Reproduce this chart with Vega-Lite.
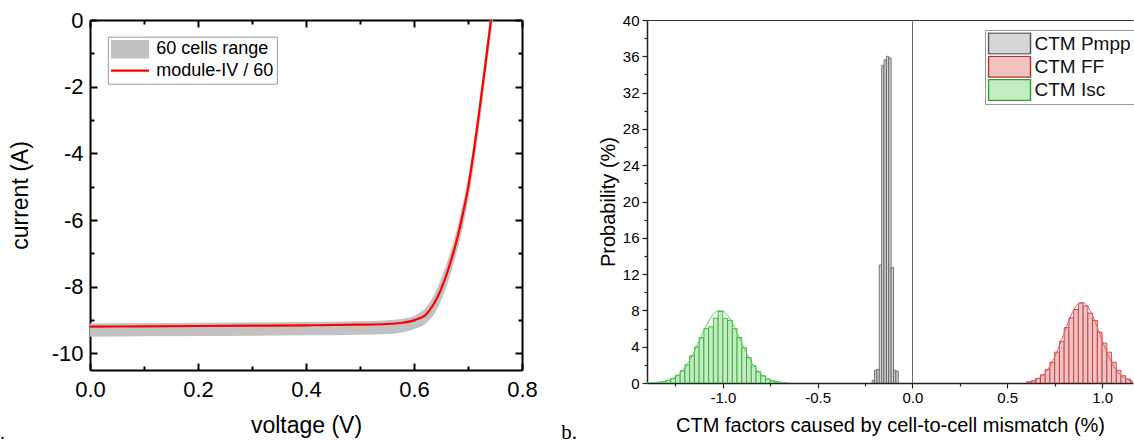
{
  "$schema": "https://vega.github.io/schema/vega-lite/v6.json",
  "background": "white",
  "padding": {"left": 0, "top": 9, "right": 0, "bottom": 0},
  "autosize": {"type": "pad"},
  "config": {
    "view": {"stroke": null},
    "font": "Liberation Sans",
    "axis": {"grid": false, "labelFont": "Liberation Sans", "titleFont": "Liberation Sans", "titleFontWeight": "normal", "labelColor": "#000", "titleColor": "#000", "labelFlush": false, "labelOverlap": false}
  },
  "datasets": {
    "band": [
      {"v": 0, "lo": -9.5, "hi": -9.1}, {"v": 0.1, "lo": -9.49, "hi": -9.09}, {"v": 0.2, "lo": -9.48, "hi": -9.08},
      {"v": 0.3, "lo": -9.47, "hi": -9.07}, {"v": 0.4, "lo": -9.46, "hi": -9.06}, {"v": 0.5, "lo": -9.44, "hi": -9.04},
      {"v": 0.55, "lo": -9.42, "hi": -9.01}, {"v": 0.575, "lo": -9.38, "hi": -8.97}, {"v": 0.6, "lo": -9.28, "hi": -8.88},
      {"v": 0.61, "lo": -9.22, "hi": -8.78}, {"v": 0.62, "lo": -9.13, "hi": -8.66}, {"v": 0.63, "lo": -8.98, "hi": -8.45},
      {"v": 0.64, "lo": -8.75, "hi": -8.15}, {"v": 0.65, "lo": -8.42, "hi": -7.78}, {"v": 0.66, "lo": -8.0, "hi": -7.33},
      {"v": 0.67, "lo": -7.5, "hi": -6.82}, {"v": 0.68, "lo": -6.92, "hi": -6.24}, {"v": 0.69, "lo": -6.25, "hi": -5.55},
      {"v": 0.7, "lo": -5.45, "hi": -4.75}, {"v": 0.71, "lo": -4.45, "hi": -3.75}, {"v": 0.72, "lo": -3.3, "hi": -2.6},
      {"v": 0.73, "lo": -2.05, "hi": -1.35}, {"v": 0.7426, "lo": -0.45, "hi": 0.25}, {"v": 0.747, "lo": 0.1, "hi": 0.6}
    ],
    "red": [
      {"v": 0, "I": -9.2}, {"v": 0.1, "I": -9.19}, {"v": 0.2, "I": -9.18}, {"v": 0.3, "I": -9.17}, {"v": 0.4, "I": -9.16},
      {"v": 0.5, "I": -9.14}, {"v": 0.55, "I": -9.12}, {"v": 0.575, "I": -9.09}, {"v": 0.6, "I": -9.01}, {"v": 0.61, "I": -8.95},
      {"v": 0.62, "I": -8.87}, {"v": 0.63, "I": -8.68}, {"v": 0.64, "I": -8.42}, {"v": 0.65, "I": -8.08}, {"v": 0.66, "I": -7.65},
      {"v": 0.67, "I": -7.14}, {"v": 0.68, "I": -6.56}, {"v": 0.69, "I": -5.85}, {"v": 0.7, "I": -5.05}, {"v": 0.71, "I": -4.02},
      {"v": 0.72, "I": -2.85}, {"v": 0.73, "I": -1.6}, {"v": 0.7426, "I": 0}, {"v": 0.746, "I": 0.45}
    ],
    "hist": [
      {"s": "CTM Isc", "x0": -1.375, "x1": -1.35, "p": 0.03}, {"s": "CTM Isc", "x0": -1.35, "x1": -1.325, "p": 0.08},
      {"s": "CTM Isc", "x0": -1.325, "x1": -1.3, "p": 0.15}, {"s": "CTM Isc", "x0": -1.3, "x1": -1.275, "p": 0.3},
      {"s": "CTM Isc", "x0": -1.275, "x1": -1.25, "p": 0.5}, {"s": "CTM Isc", "x0": -1.25, "x1": -1.225, "p": 0.85},
      {"s": "CTM Isc", "x0": -1.225, "x1": -1.2, "p": 1.35}, {"s": "CTM Isc", "x0": -1.2, "x1": -1.175, "p": 2.0},
      {"s": "CTM Isc", "x0": -1.175, "x1": -1.15, "p": 3.0}, {"s": "CTM Isc", "x0": -1.15, "x1": -1.125, "p": 4.0},
      {"s": "CTM Isc", "x0": -1.125, "x1": -1.1, "p": 5.0}, {"s": "CTM Isc", "x0": -1.1, "x1": -1.075, "p": 6.0},
      {"s": "CTM Isc", "x0": -1.075, "x1": -1.05, "p": 6.2}, {"s": "CTM Isc", "x0": -1.05, "x1": -1.025, "p": 7.15},
      {"s": "CTM Isc", "x0": -1.025, "x1": -1.0, "p": 7.9}, {"s": "CTM Isc", "x0": -1.0, "x1": -0.975, "p": 7.1},
      {"s": "CTM Isc", "x0": -0.975, "x1": -0.95, "p": 6.9}, {"s": "CTM Isc", "x0": -0.95, "x1": -0.925, "p": 6.0},
      {"s": "CTM Isc", "x0": -0.925, "x1": -0.9, "p": 5.0}, {"s": "CTM Isc", "x0": -0.9, "x1": -0.875, "p": 3.9},
      {"s": "CTM Isc", "x0": -0.875, "x1": -0.85, "p": 2.8}, {"s": "CTM Isc", "x0": -0.85, "x1": -0.825, "p": 1.9},
      {"s": "CTM Isc", "x0": -0.825, "x1": -0.8, "p": 1.25}, {"s": "CTM Isc", "x0": -0.8, "x1": -0.775, "p": 0.8},
      {"s": "CTM Isc", "x0": -0.775, "x1": -0.75, "p": 0.45}, {"s": "CTM Isc", "x0": -0.75, "x1": -0.725, "p": 0.25},
      {"s": "CTM Isc", "x0": -0.725, "x1": -0.7, "p": 0.13}, {"s": "CTM Isc", "x0": -0.7, "x1": -0.675, "p": 0.06},
      {"s": "CTM Pmpp", "x0": -0.2125, "x1": -0.2, "p": 0.3}, {"s": "CTM Pmpp", "x0": -0.2, "x1": -0.1875, "p": 1.4},
      {"s": "CTM Pmpp", "x0": -0.1875, "x1": -0.175, "p": 1.5}, {"s": "CTM Pmpp", "x0": -0.175, "x1": -0.1625, "p": 13.0},
      {"s": "CTM Pmpp", "x0": -0.1625, "x1": -0.15, "p": 35.0}, {"s": "CTM Pmpp", "x0": -0.15, "x1": -0.1375, "p": 35.6},
      {"s": "CTM Pmpp", "x0": -0.1375, "x1": -0.125, "p": 36.0}, {"s": "CTM Pmpp", "x0": -0.125, "x1": -0.1125, "p": 35.8},
      {"s": "CTM Pmpp", "x0": -0.1125, "x1": -0.1, "p": 12.7}, {"s": "CTM Pmpp", "x0": -0.1, "x1": -0.0875, "p": 1.4},
      {"s": "CTM Pmpp", "x0": -0.0875, "x1": -0.075, "p": 1.3},
      {"s": "CTM FF", "x0": 0.6, "x1": 0.625, "p": 0.12}, {"s": "CTM FF", "x0": 0.625, "x1": 0.65, "p": 0.25},
      {"s": "CTM FF", "x0": 0.65, "x1": 0.675, "p": 0.5}, {"s": "CTM FF", "x0": 0.675, "x1": 0.7, "p": 0.9},
      {"s": "CTM FF", "x0": 0.7, "x1": 0.725, "p": 1.5}, {"s": "CTM FF", "x0": 0.725, "x1": 0.75, "p": 2.3},
      {"s": "CTM FF", "x0": 0.75, "x1": 0.775, "p": 3.4}, {"s": "CTM FF", "x0": 0.775, "x1": 0.8, "p": 4.6},
      {"s": "CTM FF", "x0": 0.8, "x1": 0.825, "p": 6.1}, {"s": "CTM FF", "x0": 0.825, "x1": 0.85, "p": 7.2},
      {"s": "CTM FF", "x0": 0.85, "x1": 0.875, "p": 8.1}, {"s": "CTM FF", "x0": 0.875, "x1": 0.9, "p": 8.8},
      {"s": "CTM FF", "x0": 0.9, "x1": 0.925, "p": 8.5}, {"s": "CTM FF", "x0": 0.925, "x1": 0.95, "p": 7.7},
      {"s": "CTM FF", "x0": 0.95, "x1": 0.975, "p": 6.9}, {"s": "CTM FF", "x0": 0.975, "x1": 1.0, "p": 5.6},
      {"s": "CTM FF", "x0": 1.0, "x1": 1.025, "p": 4.4}, {"s": "CTM FF", "x0": 1.025, "x1": 1.05, "p": 3.4},
      {"s": "CTM FF", "x0": 1.05, "x1": 1.075, "p": 2.3}, {"s": "CTM FF", "x0": 1.075, "x1": 1.1, "p": 1.4},
      {"s": "CTM FF", "x0": 1.1, "x1": 1.125, "p": 0.8}, {"s": "CTM FF", "x0": 1.125, "x1": 1.15, "p": 0.45},
      {"s": "CTM FF", "x0": 1.15, "x1": 1.175, "p": 0.2}
    ],
    "fit": [
      {"s": "CTM Isc", "x": -1.4, "p": 0.01}, {"s": "CTM Isc", "x": -1.375, "p": 0.02}, {"s": "CTM Isc", "x": -1.35, "p": 0.05},
      {"s": "CTM Isc", "x": -1.325, "p": 0.1}, {"s": "CTM Isc", "x": -1.3, "p": 0.2}, {"s": "CTM Isc", "x": -1.275, "p": 0.37},
      {"s": "CTM Isc", "x": -1.25, "p": 0.65}, {"s": "CTM Isc", "x": -1.225, "p": 1.08}, {"s": "CTM Isc", "x": -1.2, "p": 1.7},
      {"s": "CTM Isc", "x": -1.175, "p": 2.5}, {"s": "CTM Isc", "x": -1.15, "p": 3.5}, {"s": "CTM Isc", "x": -1.125, "p": 4.62},
      {"s": "CTM Isc", "x": -1.1, "p": 5.77}, {"s": "CTM Isc", "x": -1.075, "p": 6.79}, {"s": "CTM Isc", "x": -1.05, "p": 7.57},
      {"s": "CTM Isc", "x": -1.025, "p": 7.96}, {"s": "CTM Isc", "x": -1.0, "p": 7.92}, {"s": "CTM Isc", "x": -0.975, "p": 7.44},
      {"s": "CTM Isc", "x": -0.95, "p": 6.61}, {"s": "CTM Isc", "x": -0.925, "p": 5.54}, {"s": "CTM Isc", "x": -0.9, "p": 4.39},
      {"s": "CTM Isc", "x": -0.875, "p": 3.29}, {"s": "CTM Isc", "x": -0.85, "p": 2.33}, {"s": "CTM Isc", "x": -0.825, "p": 1.56},
      {"s": "CTM Isc", "x": -0.8, "p": 0.98}, {"s": "CTM Isc", "x": -0.775, "p": 0.59}, {"s": "CTM Isc", "x": -0.75, "p": 0.33},
      {"s": "CTM Isc", "x": -0.725, "p": 0.18}, {"s": "CTM Isc", "x": -0.7, "p": 0.09}, {"s": "CTM Isc", "x": -0.675, "p": 0.04},
      {"s": "CTM Isc", "x": -0.65, "p": 0.02},
      {"s": "CTM FF", "x": 0.6, "p": 0.08}, {"s": "CTM FF", "x": 0.625, "p": 0.17}, {"s": "CTM FF", "x": 0.65, "p": 0.34},
      {"s": "CTM FF", "x": 0.675, "p": 0.64}, {"s": "CTM FF", "x": 0.7, "p": 1.13}, {"s": "CTM FF", "x": 0.725, "p": 1.86},
      {"s": "CTM FF", "x": 0.75, "p": 2.87}, {"s": "CTM FF", "x": 0.775, "p": 4.12}, {"s": "CTM FF", "x": 0.8, "p": 5.51},
      {"s": "CTM FF", "x": 0.825, "p": 6.89}, {"s": "CTM FF", "x": 0.85, "p": 8.03}, {"s": "CTM FF", "x": 0.875, "p": 8.74},
      {"s": "CTM FF", "x": 0.9, "p": 8.88}, {"s": "CTM FF", "x": 0.925, "p": 8.41}, {"s": "CTM FF", "x": 0.95, "p": 7.43},
      {"s": "CTM FF", "x": 0.975, "p": 6.13}, {"s": "CTM FF", "x": 1.0, "p": 4.72}, {"s": "CTM FF", "x": 1.025, "p": 3.39},
      {"s": "CTM FF", "x": 1.05, "p": 2.27}, {"s": "CTM FF", "x": 1.075, "p": 1.42}, {"s": "CTM FF", "x": 1.1, "p": 0.83},
      {"s": "CTM FF", "x": 1.125, "p": 0.45}, {"s": "CTM FF", "x": 1.15, "p": 0.23}, {"s": "CTM FF", "x": 1.175, "p": 0.11}
    ]
  },
  "bounds": "flush",
  "spacing": 125,
  "resolve": {
    "scale": {"color": "independent", "stroke": "independent", "strokeWidth": "independent"},
    "legend": {"color": "independent", "stroke": "independent", "strokeWidth": "independent"}
  },
  "hconcat": [
    {
      "width": 432,
      "height": 350,
      "layer": [
        {
          "data": {"name": "band"},
          "mark": {"type": "area", "clip": true, "interpolate": "monotone"},
          "encoding": {
            "x": {
              "field": "v", "type": "quantitative",
              "scale": {"domain": [0, 0.8], "nice": false, "zero": false},
              "axis": {
                "orient": "bottom", "values": [0, 0.1, 0.2, 0.3, 0.4, 0.5, 0.6, 0.7, 0.8],
                "labelExpr": "round(datum.value*10) % 2 == 0 ? format(datum.value, '.1f') : ''",
                "labelFontSize": 22, "labelPadding": 16,
                "tickSize": {"condition": {"test": "round(datum.value*10) % 2 == 0", "value": -7}, "value": -4},
                "tickWidth": 2, "tickColor": "#000", "domainColor": "#000", "domainWidth": 2,
                "title": "voltage (V)", "titleFontSize": 23, "titlePadding": 11
              }
            },
            "y": {
              "field": "lo", "type": "quantitative",
              "scale": {"domain": [-10.5, 0], "nice": false, "zero": false},
              "axis": {
                "orient": "left", "values": [0, -1, -2, -3, -4, -5, -6, -7, -8, -9, -10],
                "labelExpr": "datum.value % 2 == 0 ? replace(format(datum.value, 'd'), '\u2212', '-') : ''",
                "labelFontSize": 22, "labelPadding": 14,
                "tickSize": {"condition": {"test": "datum.value % 2 == 0", "value": -7}, "value": -4},
                "tickWidth": 2, "tickColor": "#000", "domainColor": "#000", "domainWidth": 2,
                "title": "current (A)", "titleFontSize": 23, "titlePadding": 19
              }
            },
            "y2": {"field": "hi"},
            "color": {
              "datum": "60 cells range", "type": "nominal",
              "scale": {"domain": ["60 cells range", "module-IV / 60"], "range": ["#c2c2c2", "#ff0000"]},
              "legend": {
                "orient": "none", "legendX": 17.8, "legendY": 16.7, "title": null,
                "labelFont": "Liberation Sans", "labelFontSize": 18, "labelColor": "#000", "labelLimit": 400,
                "symbolType": "M-3,0H5", "symbolSize": 90.25, "padding": 3, "rowPadding": 2.4, "labelOffset": 16.5,
                "clipHeight": 19,
                "symbolOpacity": 1, "strokeColor": "#999", "fillColor": "#fff"
              }
            },
            "strokeWidth": {
              "datum": "60 cells range", "type": "nominal",
              "scale": {"type": "point", "padding": 0, "domain": ["60 cells range", "module-IV / 60"], "range": [19, 2.2]},
              "legend": {
                "orient": "none", "legendX": 17.8, "legendY": 16.7, "title": null,
                "labelFont": "Liberation Sans", "labelFontSize": 18, "labelColor": "#000", "labelLimit": 400,
                "symbolType": "M-3,0H5", "symbolSize": 90.25, "padding": 3, "rowPadding": 2.4, "labelOffset": 16.5,
                "clipHeight": 19,
                "symbolOpacity": 1, "strokeColor": "#999", "fillColor": "#fff"
              }
            }
          }
        },
        {
          "data": {"name": "red"},
          "mark": {"type": "line", "clip": true, "interpolate": "monotone"},
          "encoding": {
            "x": {
              "field": "v", "type": "quantitative",
              "axis": {
                "orient": "top", "values": [0, 0.1, 0.2, 0.3, 0.4, 0.5, 0.6, 0.7, 0.8], "labels": false,
                "tickSize": {"condition": {"test": "round(datum.value*10) % 2 == 0", "value": -7}, "value": -4},
                "tickWidth": 2, "tickColor": "#000", "domainColor": "#000", "domainWidth": 2, "title": null
              }
            },
            "y": {
              "field": "I", "type": "quantitative",
              "axis": {
                "orient": "right", "values": [0, -1, -2, -3, -4, -5, -6, -7, -8, -9, -10], "labels": false,
                "tickSize": {"condition": {"test": "datum.value % 2 == 0", "value": -7}, "value": -4},
                "tickWidth": 2, "tickColor": "#000", "domainColor": "#000", "domainWidth": 2, "title": null
              }
            },
            "color": {"datum": "module-IV / 60", "type": "nominal"},
            "strokeWidth": {"datum": "module-IV / 60", "type": "nominal"}
          }
        },
        {
          "data": {"values": [{"t": ".", "v": -0.166, "I": -12.556}]},
          "mark": {"type": "text", "align": "left", "baseline": "alphabetic", "font": "Liberation Serif", "fontSize": 18, "color": "#000", "clip": false},
          "encoding": {
            "x": {"field": "v", "type": "quantitative", "axis": null},
            "y": {"field": "I", "type": "quantitative", "axis": null},
            "text": {"field": "t"}
          }
        }
      ],
      "resolve": {"axis": {"x": "independent", "y": "independent"}}
    },
    {
      "width": 486,
      "height": 363,
      "layer": [
        {
          "data": {"values": [{}]},
          "mark": {"type": "rule", "color": "#666", "strokeWidth": 1},
          "encoding": {"x": {"datum": 0, "type": "quantitative", "axis": null}}
        },
        {
          "data": {"name": "hist"},
          "mark": {"type": "bar", "clip": true, "fillOpacity": 1, "strokeWidth": 0.8},
          "encoding": {
            "x": {
              "field": "x0", "type": "quantitative",
              "scale": {"domain": [-1.4, 1.163], "nice": false, "zero": false},
              "axis": {
                "orient": "bottom", "values": [-1.25, -1, -0.75, -0.5, -0.25, 0, 0.25, 0.5, 0.75, 1],
                "labelExpr": "round(datum.value*4) % 2 == 0 ? replace(format(datum.value, '.1f'), '\u2212', '-') : ''",
                "labelFontSize": 15, "labelPadding": 2,
                "tickSize": {"condition": {"test": "round(datum.value*4) % 2 == 0", "value": 5}, "value": 3},
                "tickWidth": 1.2, "tickColor": "#222", "domainColor": "#222", "domainWidth": 1.5,
                "title": "CTM factors caused by cell-to-cell mismatch (%)", "titleFontSize": 20, "titlePadding": 10
              }
            },
            "x2": {"field": "x1"},
            "y": {
              "field": "p", "type": "quantitative", "stack": null,
              "scale": {"domain": [0, 40], "nice": false, "zero": false},
              "axis": {
                "orient": "left", "values": [0, 2, 4, 6, 8, 10, 12, 14, 16, 18, 20, 22, 24, 26, 28, 30, 32, 34, 36, 38, 40],
                "labelExpr": "datum.value % 4 == 0 ? format(datum.value, 'd') : ''",
                "labelFontSize": 15, "labelPadding": 3,
                "tickSize": {"condition": {"test": "datum.value % 4 == 0", "value": 5}, "value": 3},
                "tickWidth": 1.2, "tickColor": "#222", "domainColor": "#222", "domainWidth": 1.5,
                "title": "Probability (%)", "titleFontSize": 20, "titlePadding": 3.4
              }
            },
            "y2": {"datum": 0},
            "color": {
              "field": "s", "type": "nominal",
              "scale": {"domain": ["CTM Pmpp", "CTM FF", "CTM Isc"], "range": ["#d6d6d6", "#f2c2c2", "#c4ecc4"]},
              "legend": {
                "orient": "none", "legendX": 338, "legendY": 10, "title": null,
                "labelFont": "Liberation Sans", "labelFontSize": 19, "labelColor": "#111", "labelLimit": 400,
                "symbolType": "M-1,-1H3V1H-1Z", "symbolSize": 441, "symbolStrokeWidth": 1.5, "symbolOpacity": 1,
                "padding": 2.5, "rowPadding": 1.3, "labelOffset": 24, "clipHeight": 22,
                "strokeColor": "#999", "fillColor": "#fff"
              }
            },
            "stroke": {
              "field": "s", "type": "nominal",
              "scale": {"domain": ["CTM Pmpp", "CTM FF", "CTM Isc"], "range": ["#555555", "#b83030", "#2aa52a"]},
              "legend": {
                "orient": "none", "legendX": 338, "legendY": 10, "title": null,
                "labelFont": "Liberation Sans", "labelFontSize": 19, "labelColor": "#111", "labelLimit": 400,
                "symbolType": "M-1,-1H3V1H-1Z", "symbolSize": 441, "symbolStrokeWidth": 1.5, "symbolOpacity": 1,
                "padding": 2.5, "rowPadding": 1.3, "labelOffset": 24, "clipHeight": 22,
                "strokeColor": "#999", "fillColor": "#fff"
              }
            }
          }
        },
        {
          "data": {"name": "fit"},
          "transform": [{"filter": "datum.s === 'CTM Isc'"}],
          "mark": {"type": "line", "clip": true, "strokeWidth": 1, "color": "#55cc55", "interpolate": "monotone"},
          "encoding": {
            "x": {
              "field": "x", "type": "quantitative",
              "axis": {"orient": "top", "labels": false, "ticks": false, "domain": true, "domainColor": "#333", "domainWidth": 1.2, "title": null}
            },
            "y": {"field": "p", "type": "quantitative", "axis": null}
          }
        },
        {
          "data": {"name": "fit"},
          "transform": [{"filter": "datum.s === 'CTM FF'"}],
          "mark": {"type": "line", "clip": true, "strokeWidth": 1, "color": "#e06060", "interpolate": "monotone"},
          "encoding": {
            "x": {"field": "x", "type": "quantitative", "axis": null},
            "y": {"field": "p", "type": "quantitative", "axis": null}
          }
        },
        {
          "data": {"values": [{"t": "b.", "x": -1.852, "p": -6.12}]},
          "mark": {"type": "text", "align": "left", "baseline": "alphabetic", "font": "Liberation Serif", "fontSize": 21, "color": "#000", "clip": false},
          "encoding": {
            "x": {"field": "x", "type": "quantitative", "axis": null},
            "y": {"field": "p", "type": "quantitative", "axis": null},
            "text": {"field": "t"}
          }
        }
      ],
      "resolve": {"axis": {"x": "independent", "y": "independent"}}
    }
  ]
}
